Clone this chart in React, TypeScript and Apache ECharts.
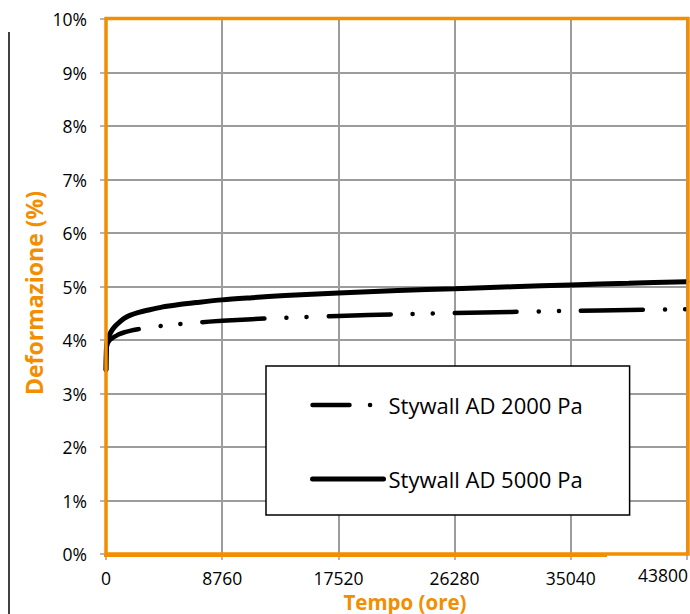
import React, { useEffect, useRef } from "react";
import * as echarts from "echarts";

const ORANGE = "#F28E00";
const GRID_GREY = "#9C9C9C";
const FONT = "Open Sans";

const xTicks = [0, 8760, 17520, 26280, 35040, 43800];
const yTicks = [0, 1, 2, 3, 4, 5, 6, 7, 8, 9, 10];

const seriesNames = ["Stywall AD 2000 Pa", "Stywall AD 5000 Pa"];

const hours2000 = [0, 20, 50, 100, 200, 350, 500, 700, 1000, 1400, 1800, 2400, 3200, 4200, 5400, 6800, 8760, 11000, 13500, 17520, 22000, 26280, 30600, 35040, 39400, 43800];
const def2000 = [3.44, 3.72, 3.85, 3.92, 3.97, 4.01, 4.04, 4.07, 4.11, 4.145, 4.17, 4.2, 4.235, 4.265, 4.295, 4.325, 4.36, 4.39, 4.415, 4.45, 4.48, 4.505, 4.525, 4.545, 4.56, 4.575];

const hours5000 = [0, 20, 50, 100, 200, 350, 500, 700, 1000, 1400, 1800, 2400, 3200, 4200, 5400, 6800, 8760, 11000, 13500, 17520, 22000, 26280, 30600, 35040, 39400, 43800];
const def5000 = [3.44, 3.75, 3.9, 3.98, 4.06, 4.14, 4.2, 4.26, 4.33, 4.41, 4.46, 4.51, 4.56, 4.615, 4.66, 4.7, 4.75, 4.79, 4.83, 4.88, 4.925, 4.96, 4.995, 5.03, 5.06, 5.09];

const pairs = (xs: number[], ys: number[]) => xs.map((x, i) => [x, ys[i]]);

export default function App() {
  const ref = useRef<HTMLDivElement>(null);
  useEffect(() => {
    if (!ref.current) return;
    const chart = echarts.init(ref.current, undefined, { renderer: "svg" });
    chart.setOption({
      animation: false,
      backgroundColor: "#fff",
      textStyle: { fontFamily: FONT },
      grid: { left: 106, right: 2, top: 19, bottom: 60, show: false },
      xAxis: {
        type: "value",
        min: xTicks[0],
        max: xTicks[xTicks.length - 1],
        interval: xTicks[1] - xTicks[0],
        axisLine: { show: false },
        axisTick: { show: true, length: 6, lineStyle: { color: GRID_GREY, width: 1.5 } },
        axisLabel: {
          margin: 16,
          color: "#000",
          fontSize: 17.5,
          lineHeight: 16,
          fontFamily: FONT,
          formatter: (v: number) => (v === xTicks[xTicks.length - 1] ? "" : String(v)),
        },
        splitLine: { show: true, lineStyle: { color: GRID_GREY, width: 2 } },
      },
      yAxis: {
        type: "value",
        min: yTicks[0],
        max: yTicks[yTicks.length - 1],
        interval: 1,
        axisLine: { show: false },
        axisTick: { show: true, length: 6, lineStyle: { color: GRID_GREY, width: 1.5 } },
        axisLabel: { margin: 19, color: "#000", fontSize: 17.5, fontFamily: FONT, formatter: "{value}%" },
        splitLine: { show: true, lineStyle: { color: GRID_GREY, width: 2 } },
      },
      legend: {
        orient: "vertical",
        left: 266,
        top: 366,
        padding: [28, 47, 25, 44],
        backgroundColor: "#fff",
        borderColor: "#000",
        borderWidth: 1.5,
        itemWidth: 71,
        itemHeight: 22,
        itemGap: 52,
        textStyle: { fontSize: 22, color: "#000", fontFamily: FONT },
        data: [
          {
            name: seriesNames[0],
            itemStyle: { opacity: 0 },
            lineStyle: { type: [37, 20.5, 0.1, 100], cap: "round", width: 4.5, color: "#000" },
          },
          {
            name: seriesNames[1],
            itemStyle: { opacity: 0 },
            lineStyle: { type: "solid", cap: "round", width: 5, color: "#000" },
          },
        ],
      },
      series: [
        {
          name: seriesNames[0],
          type: "line",
          data: pairs(hours2000, def2000),
          showSymbol: false,
          symbol: "none",
          smooth: 0.3,
          color: "#000",
          lineStyle: { color: "#000", width: 4.5, type: [62, 22, 0.1, 20, 0.1, 22], cap: "round" },
          z: 3,
        },
        {
          name: seriesNames[1],
          type: "line",
          data: pairs(hours5000, def5000),
          showSymbol: false,
          symbol: "none",
          smooth: 0.3,
          color: "#000",
          lineStyle: { color: "#000", width: 5, type: "solid", cap: "round" },
          z: 4,
        },
      ],
      graphic: [
        {
          type: "rect",
          z: 100,
          shape: { x: 106, y: 18.5, width: 582, height: 535.5 },
          style: { fill: "none", stroke: ORANGE, lineWidth: 3.5 },
          silent: true,
        },
        {
          type: "rect",
          z: 100,
          shape: { x: 104, y: 555, width: 503, height: 2 },
          style: { fill: ORANGE },
          silent: true,
        },
        {
          type: "line",
          z: 100,
          shape: { x1: 9, y1: 32, x2: 9, y2: 614 },
          style: { stroke: "#000", lineWidth: 1.5 },
          silent: true,
        },
        {
          type: "text",
          z: 100,
          x: 688,
          y: 575,
          style: {
            text: String(xTicks[xTicks.length - 1]),
            fill: "#000",
            fontSize: 17.5,
            lineHeight: 16,
            fontFamily: FONT,
            align: "right",
            verticalAlign: "middle",
          },
        },
        {
          type: "text",
          z: 100,
          x: 405,
          y: 601.5,
          style: {
            text: "Tempo (ore)",
            fill: ORANGE,
            fontSize: 20.5,
            lineHeight: 18,
            fontWeight: "bold",
            fontFamily: FONT,
            align: "center",
            verticalAlign: "middle",
          },
        },
        {
          type: "text",
          z: 100,
          x: 34,
          y: 293,
          rotation: Math.PI / 2,
          style: {
            text: "Deformazione (%)",
            fill: ORANGE,
            fontSize: 23,
            fontWeight: "bold",
            fontFamily: FONT,
            align: "center",
            verticalAlign: "middle",
          },
        },
      ],
    });
    return () => chart.dispose();
  }, []);
  return <div ref={ref} style={{ position: "fixed", left: 0, top: 0, width: 690, height: 614 }} />;
}
